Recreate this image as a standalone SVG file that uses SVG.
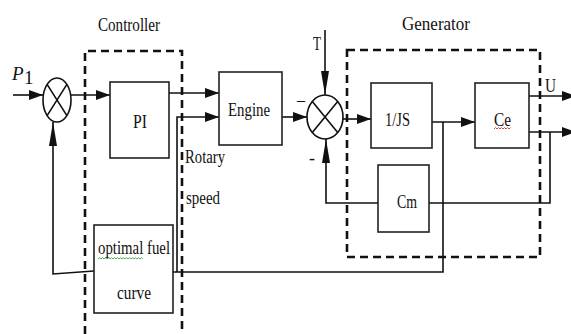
<svg xmlns="http://www.w3.org/2000/svg" width="571" height="334" viewBox="0 0 571 334">
<style>
  .box{fill:#fff;stroke:#222;stroke-width:1.6}
  .dash{fill:none;stroke:#111;stroke-width:2.6;stroke-dasharray:8 5}
  .ln{fill:none;stroke:#111;stroke-width:1.6}
  .t{font-family:"Liberation Serif","Times New Roman",serif;font-size:19px;fill:#111}
  .sq{fill:none;stroke-width:0.9}
</style>
<defs>
  <marker id="ah" viewBox="0 0 14 10" refX="14" refY="5" markerWidth="14" markerHeight="10" markerUnits="userSpaceOnUse" orient="auto">
    <path d="M0,0 L14,5 L0,10 Z" fill="#111"/>
  </marker>
  <marker id="av" viewBox="0 0 24 8" refX="24" refY="4" markerWidth="24" markerHeight="8" markerUnits="userSpaceOnUse" orient="auto">
    <path d="M0,0 L24,4 L0,8 Z" fill="#111"/>
  </marker>
</defs>
<rect width="571" height="334" fill="#fff"/>

<g id="controller-frame">
  <path class="dash" d="M85,334 V51 H182 V334"/>
  <text class="t" x="98" y="31" textLength="62" lengthAdjust="spacingAndGlyphs">Controller</text>
</g>
<g id="generator-frame">
  <rect class="dash" x="347" y="50" width="193" height="207"/>
  <text class="t" x="402" y="30" textLength="68" lengthAdjust="spacingAndGlyphs">Generator</text>
</g>

<g id="connectors">
  <path class="ln" d="M13,95 H43" marker-end="url(#ah)"/>
  <path class="ln" d="M71,95 H110" marker-end="url(#ah)"/>
  <path class="ln" d="M169,93 H219" marker-end="url(#ah)"/>
  <path class="ln" d="M177,272 V117 H219" marker-end="url(#ah)"/>
  <path class="ln" d="M282,117 H307" marker-end="url(#ah)"/>
  <path class="ln" d="M325,30 V95" marker-end="url(#av)"/>
  <path class="ln" d="M343,119 H371" marker-end="url(#ah)"/>
  <path class="ln" d="M432,122 H475" marker-end="url(#ah)"/>
  <path class="ln" d="M529,96 H576" marker-end="url(#ah)"/>
  <path class="ln" d="M529,132 H576" marker-end="url(#ah)"/>
  <path class="ln" d="M550,132 V203 H429"/>
  <path class="ln" d="M378,203 H326 V139" marker-end="url(#av)"/>
  <path class="ln" d="M443,122 V272 H173"/>
  <path class="ln" d="M94,271 L53,274 V122" marker-end="url(#av)"/>
</g>

<g id="sum1">
  <ellipse cx="57" cy="100" rx="14" ry="22" fill="#fff" stroke="#111" stroke-width="1.6"/>
  <path class="ln" d="M47.1,84.4 L66.9,115.6 M66.9,84.4 L47.1,115.6"/>
</g>
<g id="sum2">
  <ellipse cx="325" cy="117" rx="18" ry="22" fill="#fff" stroke="#111" stroke-width="1.6"/>
  <path class="ln" d="M312.3,101.4 L337.7,132.6 M337.7,101.4 L312.3,132.6"/>
</g>

<g id="pi">
  <rect class="box" x="110" y="82" width="59" height="76"/>
  <text class="t" x="133" y="128" textLength="14" lengthAdjust="spacingAndGlyphs">PI</text>
</g>
<g id="engine">
  <rect class="box" x="219" y="72" width="63" height="73"/>
  <text class="t" x="228" y="116" textLength="42" lengthAdjust="spacingAndGlyphs">Engine</text>
</g>
<g id="integrator">
  <rect class="box" x="371" y="83" width="61" height="65"/>
  <text class="t" x="385" y="126" textLength="25" lengthAdjust="spacingAndGlyphs">1/JS</text>
</g>
<g id="ce">
  <rect class="box" x="475" y="83" width="54" height="65"/>
  <text class="t" x="494" y="126" textLength="17" lengthAdjust="spacingAndGlyphs">Ce</text>
  <path class="sq" stroke="#e03030" d="M494,129 l1.5,-1.5 l1.5,1.5 l1.5,-1.5 l1.5,1.5 l1.5,-1.5 l1.5,1.5 l1.5,-1.5 l1.5,1.5 l1.5,-1.5 l1.5,1.5 l1.5,-1.5"/>
</g>
<g id="cm">
  <rect class="box" x="378" y="165" width="51" height="67"/>
  <text class="t" x="397" y="208" textLength="20" lengthAdjust="spacingAndGlyphs">Cm</text>
</g>
<g id="optimal-fuel-curve">
  <rect class="box" x="94" y="225" width="79" height="88"/>
  <text class="t" x="98" y="254" textLength="72" lengthAdjust="spacingAndGlyphs">optimal fuel</text>
  <text class="t" x="117" y="299" textLength="34" lengthAdjust="spacingAndGlyphs">curve</text>
  <path class="sq" stroke="#40a040" d="M98,259 l1.5,-1.3 l1.5,1.3 l1.5,-1.3 l1.5,1.3 l1.5,-1.3 l1.5,1.3 l1.5,-1.3 l1.5,1.3 l1.5,-1.3 l1.5,1.3 l1.5,-1.3 l1.5,1.3 l1.5,-1.3 l1.5,1.3 l1.5,-1.3 l1.5,1.3 l1.5,-1.3 l1.5,1.3 l1.5,-1.3 l1.5,1.3 l1.5,-1.3 l1.5,1.3 l1.5,-1.3 l1.5,1.3 l1.5,-1.3 l1.5,1.3 l1.5,-1.3 l1.5,1.3 l1.5,-1.3 l1.5,1.3"/>
</g>

<g id="labels">
  <text class="t" x="12" y="80" font-style="italic" font-size="19">P</text>
  <text class="t" x="24" y="84" font-size="10">1</text>
  <text class="t" x="313" y="50" textLength="8" lengthAdjust="spacingAndGlyphs">T</text>
  <text class="t" x="545" y="92" textLength="11" lengthAdjust="spacingAndGlyphs">U</text>
  <text class="t" x="185" y="163" textLength="40" lengthAdjust="spacingAndGlyphs">Rotary</text>
  <text class="t" x="186" y="204" textLength="34" lengthAdjust="spacingAndGlyphs">speed</text>
  <text class="t" x="297" y="106" textLength="8" lengthAdjust="spacingAndGlyphs">–</text>
  <text class="t" x="309" y="164" textLength="6" lengthAdjust="spacingAndGlyphs">-</text>
</g>
</svg>
